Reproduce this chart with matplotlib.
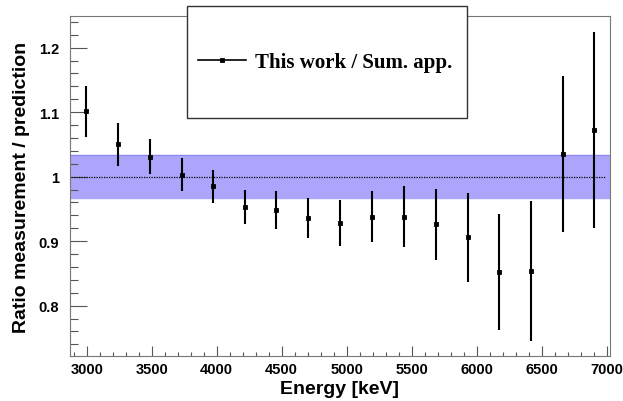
import numpy as np
import matplotlib
matplotlib.use('Agg')
import matplotlib.pyplot as plt
from matplotlib.lines import Line2D
from matplotlib.patches import Rectangle
from matplotlib.ticker import MultipleLocator, FormatStrFormatter

# ratio data
energy = [2995, 3240, 3485, 3730, 3970, 4215, 4460, 4705, 4950,
          5195, 5440, 5685, 5930, 6175, 6415, 6660, 6905]
ratio = [1.101, 1.050, 1.031, 1.003, 0.985, 0.953, 0.948, 0.936, 0.928,
         0.938, 0.938, 0.926, 0.906, 0.852, 0.854, 1.035, 1.072]
ratio_err = [0.039, 0.033, 0.027, 0.026, 0.026, 0.027, 0.029, 0.031, 0.036,
             0.040, 0.047, 0.055, 0.069, 0.090, 0.108, 0.121, 0.152]
band_lo, band_hi = 0.967, 1.033
ref_x = [2880, 6990]
ref_y = [1.0, 1.0]

plt.rcParams['font.family'] = 'Liberation Sans'
fig = plt.figure(figsize=(6.23, 4.02), dpi=100)
ax = fig.add_axes([70/623, 1-357/402, 540/623, 340/402])

ax.axhspan(band_lo, band_hi, color='#aca5fb', zorder=1)
ax.axhline(band_hi, color='#8c84f0', lw=0.8, zorder=1)
ax.plot(ref_x, ref_y, color='k', ls=(0, (1, 1)), lw=0.9, zorder=2)
ax.errorbar(energy, ratio, yerr=ratio_err, fmt='s', color='k', ms=2.2, mew=0.6,
            elinewidth=1.5, capsize=0, zorder=3)

ax.set_xlim(2872, 7025)
ax.set_ylim(0.722, 1.249)
ax.xaxis.set_major_locator(MultipleLocator(500))
ax.xaxis.set_minor_locator(MultipleLocator(100))
ax.yaxis.set_major_locator(MultipleLocator(0.1))
ax.yaxis.set_minor_locator(MultipleLocator(0.02))
ax.yaxis.set_major_formatter(FormatStrFormatter('%g'))

ax.tick_params(axis='both', which='both', direction='in', color='#555555',
               top=False, right=False)
ax.tick_params(axis='y', which='major', length=12, width=0.8, pad=8)
ax.tick_params(axis='y', which='minor', length=6, width=0.8)
ax.tick_params(axis='x', which='major', length=7, width=0.8, pad=4)
ax.tick_params(axis='x', which='minor', length=3, width=0.8)
for lab in ax.get_xticklabels() + ax.get_yticklabels():
    lab.set_fontweight('bold')
    lab.set_fontsize(10.5)
for s in ax.spines.values():
    s.set_color('#777777')
    s.set_linewidth(0.8)

ax.set_xlabel('Energy [keV]', fontsize=14, fontweight='bold', labelpad=3)
ax.set_ylabel('Ratio measurement / prediction', fontsize=14, fontweight='bold',
              labelpad=6)

# legend box (sticks out above the frame)
box = Rectangle((186.7/623, 1-119/402), 280/623, 112/402, transform=fig.transFigure,
                facecolor='white', edgecolor='#333333', lw=1.0, zorder=5)
fig.patches.append(box)
h = Line2D([], [], color='k', marker='s', ms=2.2, mew=0.6, lw=1.2)
fig.legend([h], ['This work / Sum. app.'], loc='center',
           bbox_to_anchor=(325/623, 1-63/402), frameon=False, handlelength=2.3,
           handletextpad=0.45, prop={'family': 'Liberation Serif', 'weight': 'bold', 'size': 15})

fig.savefig('out.png', dpi=100)
